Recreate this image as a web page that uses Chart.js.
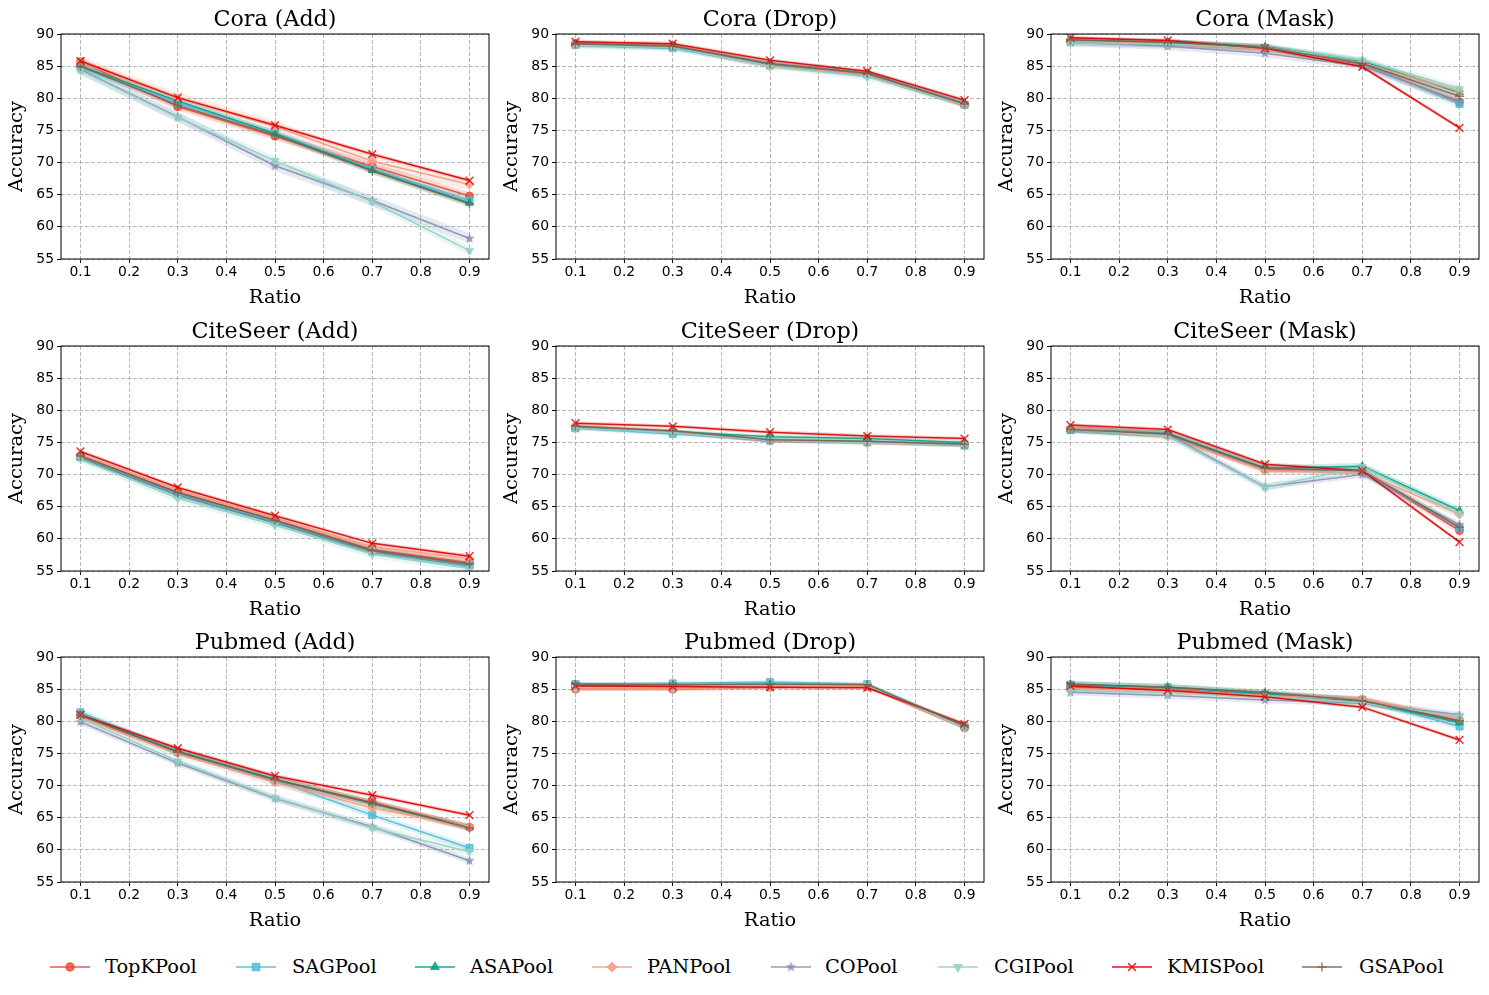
<!DOCTYPE html>
<html>
<head>
<meta charset="utf-8">
<script src="https://cdn.jsdelivr.net/npm/chart.js@4.4.1/dist/chart.umd.min.js"></script>
<style>
    body { margin: 0; background: #fff; }
    #fig { position: relative; width: 1489px; height: 995px; overflow: hidden; background: #fff; }
    #fig canvas { position: absolute; }
    .leg { position: absolute; font-family: 'DejaVu Serif'; font-size: 19.4px; line-height: 22px; color: #000; white-space: nowrap; }
</style>
</head>
<body>
<div id="fig"></div>
<script>
// ---- data ----
const ratios = [0.1, 0.3, 0.5, 0.7, 0.9];
const xTicks = [0.1, 0.2, 0.3, 0.4, 0.5, 0.6, 0.7, 0.8, 0.9];
const yTicks = [55, 60, 65, 70, 75, 80, 85, 90];
const methods = ['TopKPool', 'SAGPool', 'ASAPool', 'PANPool', 'COPool', 'CGIPool', 'KMISPool', 'GSAPool'];
const panelTitles = ['Cora (Add)', 'Cora (Drop)', 'Cora (Mask)',
                     'CiteSeer (Add)', 'CiteSeer (Drop)', 'CiteSeer (Mask)',
                     'Pubmed (Add)', 'Pubmed (Drop)', 'Pubmed (Mask)'];

// rows follow the order of `methods`
const coraAdd = [
    [85.7, 78.7, 74.1, 69.4, 64.8],
    [84.8, 79.3, 74.6, 69.0, 64.1],
    [85.0, 79.6, 74.5, 68.8, 63.7],
    [85.6, 80.0, 75.6, 70.2, 66.6],
    [84.5, 77.1, 69.5, 64.1, 58.2],
    [84.3, 77.0, 70.3, 63.9, 56.3],
    [85.8, 80.1, 75.8, 71.3, 67.2],
    [85.0, 78.9, 74.3, 68.7, 63.6]
];
const coraDrop = [
    [88.5, 88.2, 85.2, 83.8, 79.0],
    [88.3, 87.8, 85.1, 83.7, 79.0],
    [88.4, 88.0, 85.3, 83.9, 79.1],
    [88.3, 88.1, 85.0, 83.7, 78.9],
    [88.5, 88.1, 85.3, 83.8, 79.2],
    [88.2, 87.9, 85.0, 83.3, 79.0],
    [88.8, 88.5, 85.9, 84.2, 79.7],
    [88.5, 88.1, 85.4, 83.9, 79.1]
];
const coraMask = [
    [89.0, 88.6, 87.8, 85.3, 79.4],
    [88.8, 88.5, 87.8, 85.4, 79.1],
    [89.0, 88.7, 88.0, 85.8, 80.9],
    [88.9, 88.5, 87.6, 85.5, 81.1],
    [88.7, 88.1, 87.0, 85.0, 79.6],
    [88.6, 88.4, 87.9, 85.9, 81.5],
    [89.4, 89.0, 87.8, 84.9, 75.4],
    [89.1, 88.7, 87.9, 85.4, 80.3]
];
const citeAdd = [
    [72.8, 67.2, 62.9, 58.3, 56.3],
    [72.8, 67.0, 62.8, 58.1, 55.9],
    [72.6, 66.8, 62.5, 58.0, 55.8],
    [73.1, 67.6, 63.2, 58.8, 56.9],
    [72.7, 66.9, 62.6, 58.0, 55.9],
    [72.4, 66.3, 62.1, 57.6, 55.4],
    [73.6, 68.0, 63.6, 59.3, 57.3],
    [72.9, 67.2, 62.9, 58.2, 56.1]
];
const citeDrop = [
    [77.4, 76.6, 75.3, 75.0, 74.6],
    [77.2, 76.3, 75.4, 75.1, 74.5],
    [77.4, 76.7, 75.9, 75.6, 75.0],
    [77.6, 76.7, 75.3, 74.9, 74.6],
    [77.3, 76.6, 75.2, 75.0, 74.7],
    [77.2, 76.5, 75.3, 74.9, 74.6],
    [78.0, 77.5, 76.6, 76.0, 75.6],
    [77.5, 76.8, 75.4, 75.2, 74.7]
];
const citeMask = [
    [77.1, 76.2, 70.8, 70.6, 61.3],
    [76.9, 76.2, 70.9, 70.5, 61.7],
    [77.0, 76.4, 71.0, 71.3, 64.4],
    [77.3, 75.9, 70.6, 70.4, 63.8],
    [77.0, 76.3, 68.1, 70.0, 62.2],
    [77.0, 76.0, 68.0, 71.2, 63.9],
    [77.7, 77.0, 71.6, 70.6, 59.5],
    [77.0, 76.3, 71.0, 70.6, 61.8]
];
const pubAdd = [
    [81.0, 75.3, 70.9, 67.4, 63.5],
    [81.4, 75.2, 70.8, 65.4, 60.3],
    [81.0, 75.3, 71.0, 67.2, 63.5],
    [80.7, 75.0, 70.5, 66.5, 63.6],
    [79.9, 73.5, 68.0, 63.6, 58.3],
    [80.5, 73.8, 68.1, 63.4, 59.7],
    [81.0, 75.8, 71.5, 68.5, 65.4],
    [80.9, 75.2, 70.9, 67.3, 63.4]
];
const pubDrop = [
    [85.0, 85.0, 85.3, 85.4, 79.0],
    [85.8, 85.9, 86.1, 85.8, 79.2],
    [85.6, 85.5, 85.7, 85.6, 79.1],
    [85.0, 85.0, 85.3, 85.5, 78.9],
    [85.5, 85.5, 85.6, 85.6, 79.1],
    [85.3, 85.4, 85.6, 85.6, 79.0],
    [85.5, 85.4, 85.3, 85.2, 79.6],
    [85.8, 85.7, 85.8, 85.7, 79.3]
];
const pubMask = [
    [85.2, 84.9, 84.1, 83.4, 80.0],
    [85.7, 85.3, 84.2, 83.3, 79.2],
    [85.7, 85.3, 84.3, 83.1, 79.8],
    [85.1, 84.8, 84.0, 83.4, 80.4],
    [84.5, 84.0, 83.3, 82.8, 81.0],
    [84.8, 84.4, 83.9, 82.9, 80.7],
    [85.5, 84.8, 83.8, 82.2, 77.1],
    [85.8, 85.3, 84.5, 83.2, 80.1]
];

// half width of the shaded band, one per method
const coraAddStd  = [0.6, 0.5, 0.5, 0.9, 0.8, 0.7, 0.3, 0.5];
const coraDropStd = [0.4, 0.4, 0.4, 0.4, 0.4, 0.5, 0.3, 0.4];
const coraMaskStd = [0.5, 0.6, 0.5, 0.6, 0.6, 0.6, 0.3, 0.5];
const citeAddStd  = [0.5, 0.5, 0.5, 0.5, 0.5, 0.6, 0.3, 0.5];
const citeDropStd = [0.3, 0.3, 0.3, 0.3, 0.3, 0.3, 0.3, 0.3];
const citeMaskStd = [0.5, 0.5, 0.5, 0.5, 0.5, 0.6, 0.3, 0.5];
const pubAddStd   = [0.5, 0.5, 0.5, 0.6, 0.5, 0.6, 0.3, 0.5];
const pubDropStd  = [0.3, 0.3, 0.3, 0.3, 0.3, 0.3, 0.3, 0.3];
const pubMaskStd  = [0.5, 0.5, 0.5, 0.5, 0.5, 0.5, 0.3, 0.5];

const panelData = [coraAdd, coraDrop, coraMask, citeAdd, citeDrop, citeMask, pubAdd, pubDrop, pubMask];
const panelStd = [coraAddStd, coraDropStd, coraMaskStd, citeAddStd, citeDropStd, citeMaskStd, pubAddStd, pubDropStd, pubMaskStd];

// ---- styles ----
const colors = ['#E64B35', '#4DBBD5', '#00A087', '#F39B7F', '#8491B4', '#91D1C2', '#DC0000', '#7E6148'];

function rgba(hex, a) {
    const n = parseInt(hex.slice(1), 16);
    return 'rgba(' + (n >> 16) + ',' + ((n >> 8) & 255) + ',' + (n & 255) + ',' + a + ')';
}

function makeStar(color, r) {
    const c = document.createElement('canvas');
    c.width = c.height = Math.ceil(r * 2 + 2);
    const g = c.getContext('2d');
    const cx = c.width / 2, cy = c.height / 2;
    g.beginPath();
    for (let k = 0; k < 10; k++) {
        const rr = k % 2 ? r * 0.42 : r;
        const a = -Math.PI / 2 + k * Math.PI / 5;
        g.lineTo(cx + rr * Math.cos(a), cy + rr * Math.sin(a));
    }
    g.closePath();
    g.fillStyle = rgba(color, 0.85);
    g.fill();
    return c;
}

const starImg = makeStar(colors[4], 5.5);
const markers = ['circle', 'rect', 'triangle', 'rectRot', starImg, 'triangle', 'crossRot', 'cross'];
const markerRot = [0, 0, 0, 0, 0, 180, 0, 0];
const markerSize = [4, 5, 4.5, 4.5, 5, 4.5, 5.5, 4.5];
const markerEdge = [1, 1, 1, 1, 1, 1, 1.5, 1.5];

// ---- layout ----
const plotLefts = [61, 556, 1051];
const plotTops = [34, 346, 657];
const plotW = 429, plotH = 225;
const yAxisW = 61, titleH = 34, xAxisH = 55, padRight = 6;

Chart.defaults.font.family = 'DejaVu Sans';
Chart.defaults.color = '#000';

// frame around the plot area, like matplotlib spines
const boxPlugin = {
    id: 'box',
    afterDatasetsDraw(chart) {
        const { ctx, chartArea: a } = chart;
        ctx.save();
        ctx.strokeStyle = '#000';
        ctx.lineWidth = 1;
        ctx.strokeRect(a.left, a.top, a.right - a.left, a.bottom - a.top);
        ctx.restore();
    }
};

// title centred over the plot area instead of the whole canvas
const panelTitlePlugin = {
    id: 'panelTitle',
    afterDraw(chart, args, opts) {
        const { ctx, chartArea: a } = chart;
        ctx.save();
        ctx.font = '22.2px "DejaVu Serif"';
        ctx.fillStyle = '#000';
        ctx.textAlign = 'center';
        ctx.textBaseline = 'alphabetic';
        ctx.fillText(opts.text, (a.left + a.right) / 2, a.top - 8);
        ctx.restore();
    }
};

function buildDatasets(rows, std) {
    const ds = [];
    methods.forEach((name, i) => {
        const c = colors[i];
        ds.push({
            data: ratios.map((x, k) => ({ x: x, y: rows[i][k] + std[i] })),
            borderColor: 'rgba(0,0,0,0)', borderWidth: 0, pointRadius: 0, fill: false, order: 100
        });
        ds.push({
            data: ratios.map((x, k) => ({ x: x, y: rows[i][k] - std[i] })),
            borderColor: 'rgba(0,0,0,0)', borderWidth: 0, pointRadius: 0,
            fill: '-1', backgroundColor: rgba(c, 0.2), order: 100
        });
        ds.push({
            label: name,
            data: ratios.map((x, k) => ({ x: x, y: rows[i][k] })),
            borderColor: rgba(c, 0.9),
            borderWidth: 1.5,
            pointStyle: markers[i],
            pointRotation: markerRot[i],
            pointRadius: markerSize[i],
            pointBorderWidth: markerEdge[i],
            pointBackgroundColor: rgba(c, 0.8),
            pointBorderColor: rgba(c, 0.8),
            fill: false,
            order: 20 - i
        });
    });
    return ds;
}

const fig = document.getElementById('fig');

panelTitles.forEach((title, p) => {
    const r = Math.floor(p / 3), col = p % 3;
    const canvas = document.createElement('canvas');
    const w = yAxisW + plotW + padRight, h = titleH + plotH + xAxisH;
    canvas.width = w;
    canvas.height = h;
    canvas.style.left = (plotLefts[col] - yAxisW) + 'px';
    canvas.style.top = (plotTops[r] - titleH) + 'px';
    canvas.style.width = w + 'px';
    canvas.style.height = h + 'px';
    fig.appendChild(canvas);

    new Chart(canvas, {
        type: 'line',
        data: { datasets: buildDatasets(panelData[p], panelStd[p]) },
        options: {
            responsive: false,
            animation: false,
            layout: { padding: { left: 0, right: padRight, top: titleH, bottom: 0 } },
            plugins: {
                legend: { display: false },
                tooltip: { enabled: false },
                title: { display: false },
                panelTitle: { text: title }
            },
            scales: {
                x: {
                    type: 'linear',
                    min: 0.06,
                    max: 0.94,
                    afterBuildTicks: s => { s.ticks = xTicks.map(v => ({ value: v })); },
                    afterFit: s => { s.height = xAxisH; },
                    ticks: {
                        callback: v => v.toFixed(1),
                        font: { size: 13.9 },
                        color: '#000',
                        padding: 1,
                        maxRotation: 0,
                        autoSkip: false
                    },
                    grid: { color: '#b0b0b0', lineWidth: 0.9, tickColor: '#000', tickLength: 4, tickWidth: 1 },
                    border: { display: false, dash: [4, 2] },
                    title: {
                        display: true, text: 'Ratio', color: '#000',
                        font: { family: 'DejaVu Serif', size: 19.4 },
                        padding: { top: 4, bottom: 4 }
                    }
                },
                y: {
                    min: yTicks[0],
                    max: yTicks[yTicks.length - 1],
                    afterBuildTicks: s => { s.ticks = yTicks.map(v => ({ value: v })); },
                    afterFit: s => { s.width = yAxisW; },
                    ticks: { font: { size: 13.9 }, color: '#000', padding: 3, autoSkip: false },
                    grid: { color: '#b0b0b0', lineWidth: 0.9, tickColor: '#000', tickLength: 4, tickWidth: 1 },
                    border: { display: false, dash: [4, 2] },
                    title: {
                        display: true, text: 'Accuracy', color: '#000',
                        font: { family: 'DejaVu Serif', size: 19.4 },
                        padding: { top: 5.5, bottom: 4 }
                    }
                }
            }
        },
        plugins: [boxPlugin, panelTitlePlugin]
    });
});

// ---- legend below the grid ----
const legLineX = [50, 236, 415, 592, 771, 938, 1112, 1302];
const legTextX = [105, 292, 470, 647, 825, 994, 1167, 1359];
const legY = 967;

methods.forEach((name, i) => {
    const icon = document.createElement('canvas');
    icon.width = 40;
    icon.height = 20;
    icon.style.left = legLineX[i] + 'px';
    icon.style.top = (legY - 10) + 'px';
    const g = icon.getContext('2d');
    g.strokeStyle = rgba(colors[i], 0.9);
    g.lineWidth = 1.5;
    g.beginPath();
    g.moveTo(0, 10);
    g.lineTo(40, 10);
    g.stroke();
    g.fillStyle = rgba(colors[i], 0.8);
    g.strokeStyle = rgba(colors[i], 0.8);
    Chart.helpers.drawPoint(g, {
        pointStyle: markers[i], rotation: markerRot[i], radius: markerSize[i], borderWidth: markerEdge[i]
    }, 20, 10);
    fig.appendChild(icon);

    const label = document.createElement('div');
    label.className = 'leg';
    label.textContent = name;
    label.style.left = legTextX[i] + 'px';
    label.style.top = (legY - 11) + 'px';
    fig.appendChild(label);
});
</script>
</body>
</html>
